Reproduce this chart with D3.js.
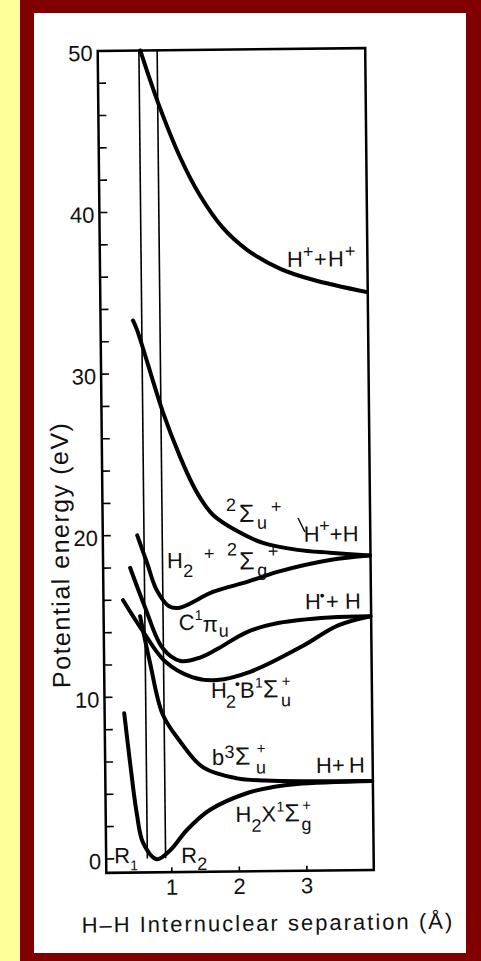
<!DOCTYPE html>
<html>
<head>
<meta charset="utf-8">
<script src="https://cdn.jsdelivr.net/npm/d3@7.9.0/dist/d3.min.js"></script>
<style>
  html, body { margin: 0; padding: 0; background: #ffff99; }
  svg { display: block; }
  text { font-family: "Liberation Sans", Arial, sans-serif; fill: #111; }
</style>
</head>
<body>
<svg id="chart" width="481" height="961"></svg>
<script>
// H2 / H2+ potential energy curves (x in Å, y in eV)
const xTicks = [1, 2, 3];
const yTicks = [0, 10, 20, 30, 40, 50];
const yMinorTicks = [2, 4, 6, 8, 12, 14, 16, 18, 22, 24, 26, 28, 32, 34, 36, 38, 42, 44, 46, 48];
const rLines = [0.64, 0.91];

const hPlusHPlus = [[0.66, 50], [0.92, 46.7], [1.23, 43.4], [1.52, 41.0], [1.85, 39.0], [2.21, 37.6], [2.70, 36.4], [3.18, 35.7], [3.98, 34.9]];
const sigmaU = [[0.51, 33.3], [0.57, 32.7], [0.94, 27.6], [1.19, 24.8], [1.37, 23.1], [1.52, 22.0], [1.67, 21.2], [2.02, 20.2], [2.40, 19.45], [2.91, 19.0], [3.39, 18.8], [3.98, 18.6]];
const sigmaG = [[0.54, 20.0], [0.68, 18.3], [0.82, 16.6], [1.0, 15.6], [1.16, 15.5], [1.65, 16.45], [2.16, 17.05], [2.61, 17.65], [3.39, 18.35], [3.98, 18.6]];
const stateC = [[0.43, 18.0], [0.64, 15.6], [0.9, 13.0], [1.16, 12.2], [1.45, 12.4], [1.70, 12.9], [2.15, 13.95], [2.63, 14.5], [3.37, 14.8], [3.98, 14.85]];
const stateB = [[0.32, 16.0], [0.62, 14.0], [0.93, 12.2], [1.33, 11.2], [1.70, 11.0], [2.2, 11.5], [2.95, 13.0], [3.5, 14.3], [3.98, 14.85]];
const stateb = [[0.57, 15.0], [0.71, 12.1], [0.89, 8.9], [1.14, 7.24], [1.48, 5.6], [1.98, 4.9], [2.4, 4.75], [3.0, 4.68], [3.98, 4.65]];
const stateX = [[0.32, 9.0], [0.40, 5.9], [0.49, 2.8], [0.58, 0.97], [0.78, -0.05], [0.98, 0.5], [1.23, 1.74], [1.57, 2.96], [2.13, 3.99], [2.51, 4.34], [2.87, 4.52], [3.98, 4.65]];

const curves = [hPlusHPlus, sigmaU, sigmaG, stateC, stateB, stateb, stateX];

const svg = d3.select('#chart');

// page frame: yellow strip, maroon border, white card
svg.append('rect').attr('x', 20).attr('y', 0).attr('width', 461).attr('height', 961).attr('fill', '#800000');
svg.append('rect').attr('x', 34).attr('y', 13).attr('width', 432).attr('height', 940).attr('fill', '#ffffff');

// the scan is a little tilted, so the whole figure is turned a bit
const g = svg.append('g').attr('transform', 'rotate(-0.6,235.75,460.5)');

const x = d3.scaleLinear().domain([0.03, 3.99]).range([102, 369.5]);
const y = d3.scaleLinear().domain([-0.86, 50]).range([871.5, 49.5]);

g.append('rect')
  .attr('x', x.range()[0]).attr('y', y.range()[1])
  .attr('width', x.range()[1] - x.range()[0]).attr('height', y.range()[0] - y.range()[1])
  .attr('fill', 'none').attr('stroke', '#000').attr('stroke-width', 2.5);

// inward ticks
g.selectAll('line.yt').data(yTicks.concat(yMinorTicks)).join('line')
  .attr('class', 'yt')
  .attr('x1', x.range()[0]).attr('x2', x.range()[0] + 8)
  .attr('y1', d => y(d)).attr('y2', d => y(d))
  .attr('stroke', '#000').attr('stroke-width', 1.6);
g.selectAll('line.xt').data(xTicks).join('line')
  .attr('class', 'xt')
  .attr('x1', d => x(d)).attr('x2', d => x(d))
  .attr('y1', y.range()[0]).attr('y2', y.range()[0] - 5)
  .attr('stroke', '#000').attr('stroke-width', 1.6);

g.selectAll('text.yl').data(yTicks).join('text')
  .attr('class', 'yl')
  .attr('x', x.range()[0] - 5).attr('y', d => y(d) + 10)
  .attr('text-anchor', 'end').attr('font-size', 22)
  .text(d => d);
g.selectAll('text.xl').data(xTicks).join('text')
  .attr('class', 'xl')
  .attr('x', d => x(d)).attr('y', 894)
  .attr('text-anchor', 'middle').attr('font-size', 22)
  .text(d => d);

g.append('text')
  .attr('transform', 'translate(68,553) rotate(-90)')
  .attr('text-anchor', 'middle').attr('font-size', 25).attr('letter-spacing', 1.5)
  .text('Potential energy (eV)');
g.append('text')
  .attr('x', 263).attr('y', 931)
  .attr('text-anchor', 'middle').attr('font-size', 22).attr('letter-spacing', 2)
  .text('H–H Internuclear separation (Å)');

// R1 / R2 markers
g.selectAll('line.r').data(rLines).join('line')
  .attr('class', 'r')
  .attr('x1', d => x(d)).attr('x2', d => x(d))
  .attr('y1', y(50)).attr('y2', y(0))
  .attr('stroke', '#000').attr('stroke-width', 1.6);

const line = d3.line().x(d => x(d[0])).y(d => y(d[1])).curve(d3.curveCatmullRom.alpha(0.5));
g.selectAll('path.pec').data(curves).join('path')
  .attr('class', 'pec')
  .attr('d', line)
  .attr('fill', 'none').attr('stroke', '#000').attr('stroke-width', 4)
  .attr('stroke-linecap', 'round');

// term labels: one <text> each, parts = [string, kind, x offset, y offset?]
// 'st' is a small + stacked over a subscript
const sizes = { n: 22, sub: 18, sup: 18, sig: 25, one: 14, st: 15, dot: 14 };
function richLabel(ox, oy, parts) {
  const t = g.append('text').attr('transform', `translate(${ox},${oy})`);
  for (const [str, kind, dx, dy] of parts) {
    const off = dy != null ? dy : kind === 'sub' ? 8 : kind === 'st' ? -11 : kind === 'n' || kind === 'sig' ? 0 : -9;
    t.append('tspan')
      .attr('x', dx).attr('y', off)
      .attr('font-size', sizes[kind])
      .text(str);
  }
}

richLabel(289, 267.5, [['H', 'n', 0], ['+', 'sup', 16], ['+', 'n', 27], ['H', 'n', 41], ['+', 'sup', 58]]);
richLabel(225.4, 522, [['2', 'sup', 0, -11], ['Σ', 'sig', 13], ['u', 'sub', 31, 7], ['+', 'sup', 45]]);
richLabel(303, 542.5, [['H', 'n', 0], ['+', 'sup', 15.5, -10], ['+', 'n', 26], ['H', 'n', 39]]);
g.append('line').attr('x1', 297.4).attr('y1', 518.7).attr('x2', 304.2).attr('y2', 532.7)
  .attr('stroke', '#000').attr('stroke-width', 1.4);
richLabel(166, 567.5, [['H', 'n', 0], ['2', 'sub', 16, 9], ['+', 'sup', 37, -8], ['2', 'sup', 60, -12], ['Σ', 'sig', 72, 2],
  ['g', 'sub', 90, 9], ['+', 'sup', 101, -10]]);
richLabel(177, 629.5, [['C', 'n', 0], ['1', 'one', 16, -10], ['π', 'n', 24, 2], ['u', 'sub', 40, 7]]);
richLabel(303.4, 610, [['H', 'n', 0], ['•', 'dot', 15, -9], ['+', 'n', 21], ['H', 'n', 40]]);
richLabel(208.5, 697.7, [['H', 'n', 0], ['2', 'sub', 15, 10], ['•', 'dot', 24, -9], ['B', 'n', 29], ['1', 'one', 44, -10],
  ['Σ', 'sig', 52], ['u', 'sub', 70, 9], ['+', 'st', 71]]);
richLabel(208.8, 764.8, [['b', 'n', 0], ['3', 'sup', 12.5, -7], ['Σ', 'sig', 23], ['u', 'sub', 44, 9], ['+', 'st', 45]]);
richLabel(312.7, 773.8, [['H', 'n', 0], ['+', 'n', 16], ['H', 'n', 33]]);
richLabel(231.7, 822, [['H', 'n', 0], ['2', 'sub', 16, 10], ['X', 'n', 26], ['1', 'one', 41, -10], ['Σ', 'sig', 49],
  ['g', 'sub', 66, 9], ['+', 'st', 67]]);
richLabel(110, 862, [['R', 'n', 0], ['1', 'one', 16, 7]]);
richLabel(177, 862.5, [['R', 'n', 0], ['2', 'sub', 16, 7]]);
</script>
</body>
</html>
